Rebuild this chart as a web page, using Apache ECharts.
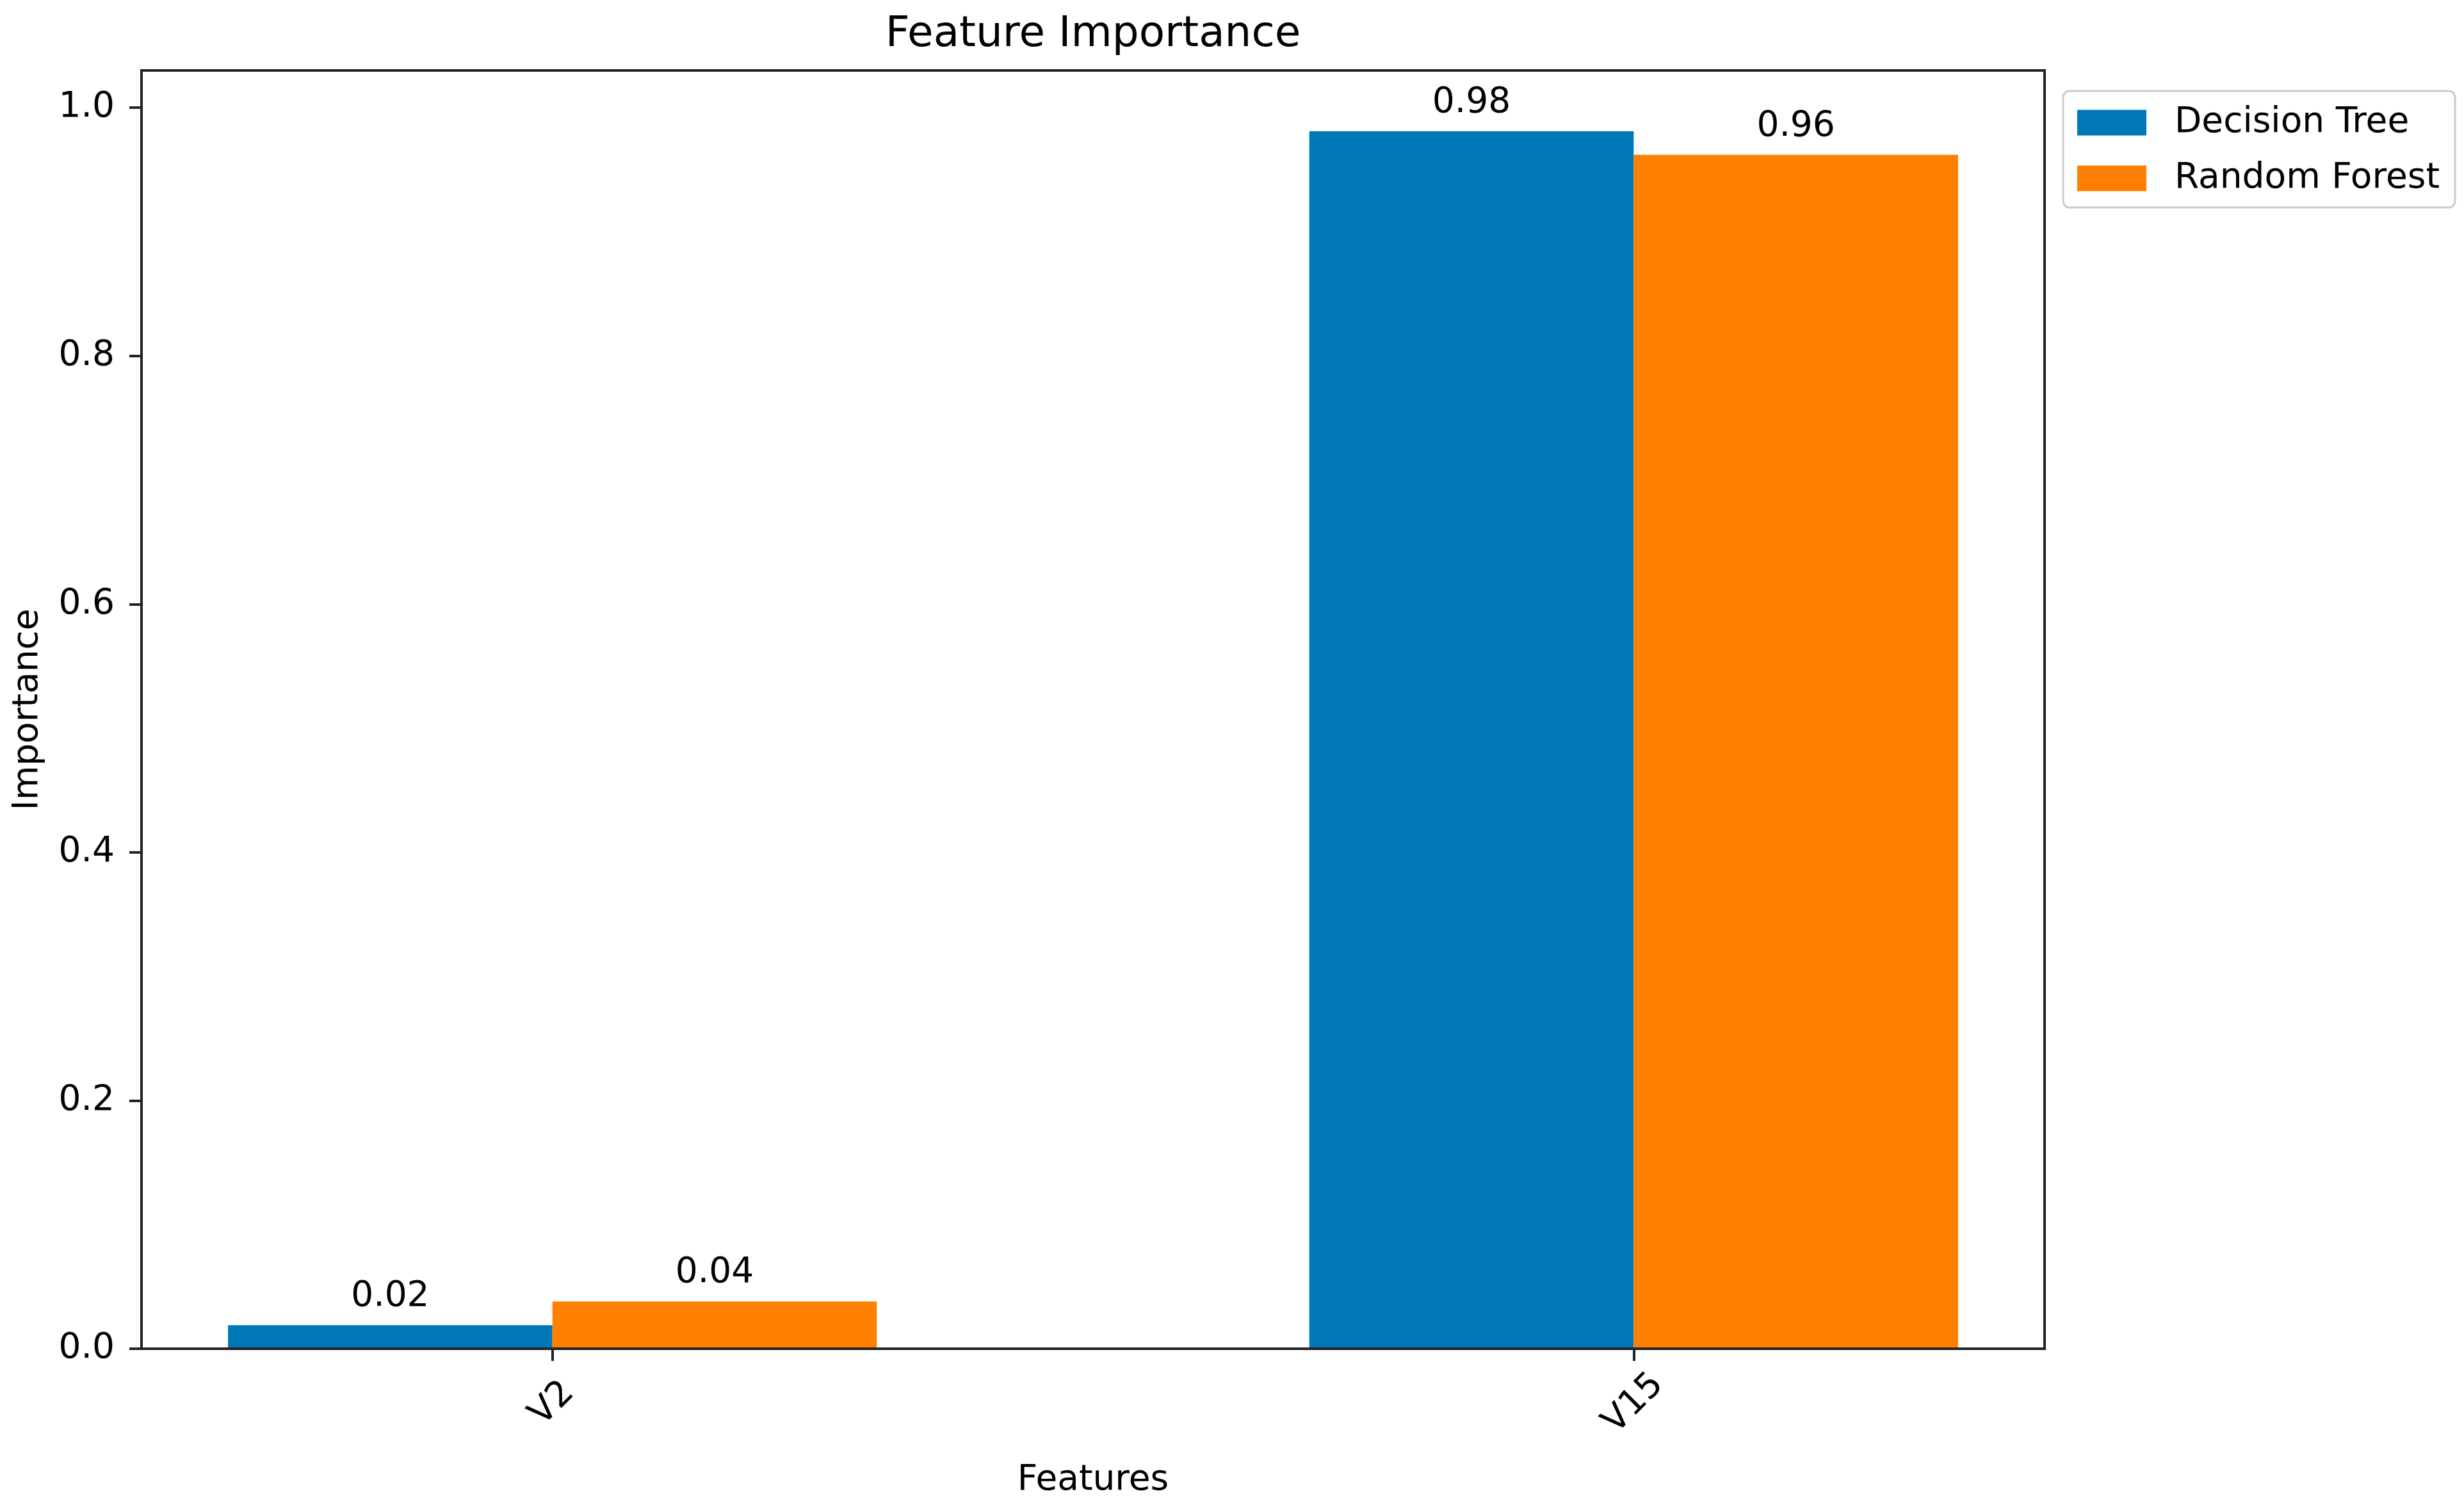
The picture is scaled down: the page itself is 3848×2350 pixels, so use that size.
<!DOCTYPE html>
<html>
<head>
<meta charset="utf-8">
<script src="https://cdn.jsdelivr.net/npm/echarts@6/dist/echarts.min.js"></script>
<style>
html,body{margin:0;padding:0;background:#fff;}
#chart{width:3848px;height:2350px;}
</style>
</head>
<body>
<div id="chart"></div>
<script>
// ---- data ----
const categories = ['V2', 'V15'];
const decisionTree = [0.019, 0.981];
const randomForest = [0.038, 0.962];
const seriesNames = ['Decision Tree', 'Random Forest'];
const yTicks = [0.0, 0.2, 0.4, 0.6, 0.8, 1.0];
const xTickPositions = [0, 1];

// ---- layout ----
const W = 3848, H = 2350;
const gridLeft = 221, gridRight = 655, gridTop = 110, gridBottom = 244;
const xMin = -0.38, xMax = 1.38;
const yMin = 0, yMax = 1.03;
const barFraction = 0.3;
const gridWidth = W - gridLeft - gridRight;
const barPx = gridWidth * barFraction / (xMax - xMin);
const plotCenterX = gridLeft + gridWidth / 2;

const FONT = 'DejaVu Sans';
const FS = 55;
const INK = '#222';

const chart = echarts.init(document.getElementById('chart'), null, {renderer: 'canvas'});

function mkData(arr) { return categories.map((c, i) => [i, arr[i]]); }

const labelCfg = {
  show: true,
  position: 'top',
  distance: 17,
  fontFamily: FONT,
  fontSize: FS,
  color: '#000',
  formatter: p => p.value[1].toFixed(2)
};

chart.setOption({
  backgroundColor: '#fff',
  animation: false,
  title: {
    text: 'Feature Importance',
    left: plotCenterX,
    textAlign: 'center',
    top: 22,
    padding: 0,
    textStyle: {fontFamily: FONT, fontSize: 66, fontWeight: 'normal', color: '#000', lineHeight: 66}
  },
  legend: {
    orient: 'vertical',
    left: 3222,
    top: 142,
    padding: [22, 24, 18, 22],
    itemWidth: 108,
    itemHeight: 40,
    itemGap: 32,
    icon: 'rect',
    backgroundColor: 'rgba(255,255,255,0.8)',
    borderColor: '#cccccc',
    borderWidth: 3,
    borderRadius: 10,
    data: seriesNames,
    textStyle: {fontFamily: FONT, fontSize: FS, color: '#000', lineHeight: 40, padding: [0, 0, 0, 39]}
  },
  grid: {
    left: gridLeft, right: gridRight, top: gridTop, bottom: gridBottom,
    show: true, borderColor: INK, borderWidth: 4, backgroundColor: 'transparent'
  },
  xAxis: {
    type: 'value',
    min: xMin, max: xMax,
    z: 10,
    name: 'Features',
    nameLocation: 'middle',
    nameGap: 178,
    nameTextStyle: {fontFamily: FONT, fontSize: FS, color: '#000', lineHeight: FS},
    splitLine: {show: false},
    axisLine: {show: true, onZero: false, lineStyle: {color: INK, width: 4}},
    axisTick: {show: true, length: 19, customValues: xTickPositions, lineStyle: {color: INK, width: 4}},
    axisLabel: {
      show: true,
      customValues: xTickPositions,
      rotate: 45,
      margin: 86,
      align: 'center',
      verticalAlign: 'middle',
      fontFamily: FONT, fontSize: FS, color: '#000',
      formatter: v => categories[Math.round(v)]
    }
  },
  yAxis: {
    type: 'value',
    min: yMin, max: yMax,
    z: 10,
    name: 'Importance',
    nameLocation: 'middle',
    nameGap: 150,
    nameTextStyle: {fontFamily: FONT, fontSize: FS, color: '#000', lineHeight: FS},
    splitLine: {show: false},
    axisLine: {show: true, onZero: false, lineStyle: {color: INK, width: 4}},
    axisTick: {show: true, length: 19, customValues: yTicks, lineStyle: {color: INK, width: 4}},
    axisLabel: {
      show: true,
      customValues: yTicks,
      margin: 42,
      fontFamily: FONT, fontSize: FS, color: '#000',
      formatter: v => v.toFixed(1)
    }
  },
  series: [
    {
      name: seriesNames[0],
      type: 'bar',
      barWidth: barPx,
      barGap: '0%',
      itemStyle: {color: '#0077b6'},
      label: labelCfg,
      data: mkData(decisionTree)
    },
    {
      name: seriesNames[1],
      type: 'bar',
      barWidth: barPx,
      barGap: '0%',
      itemStyle: {color: '#ff8000'},
      label: labelCfg,
      data: mkData(randomForest)
    }
  ]
});
</script>
</body>
</html>
